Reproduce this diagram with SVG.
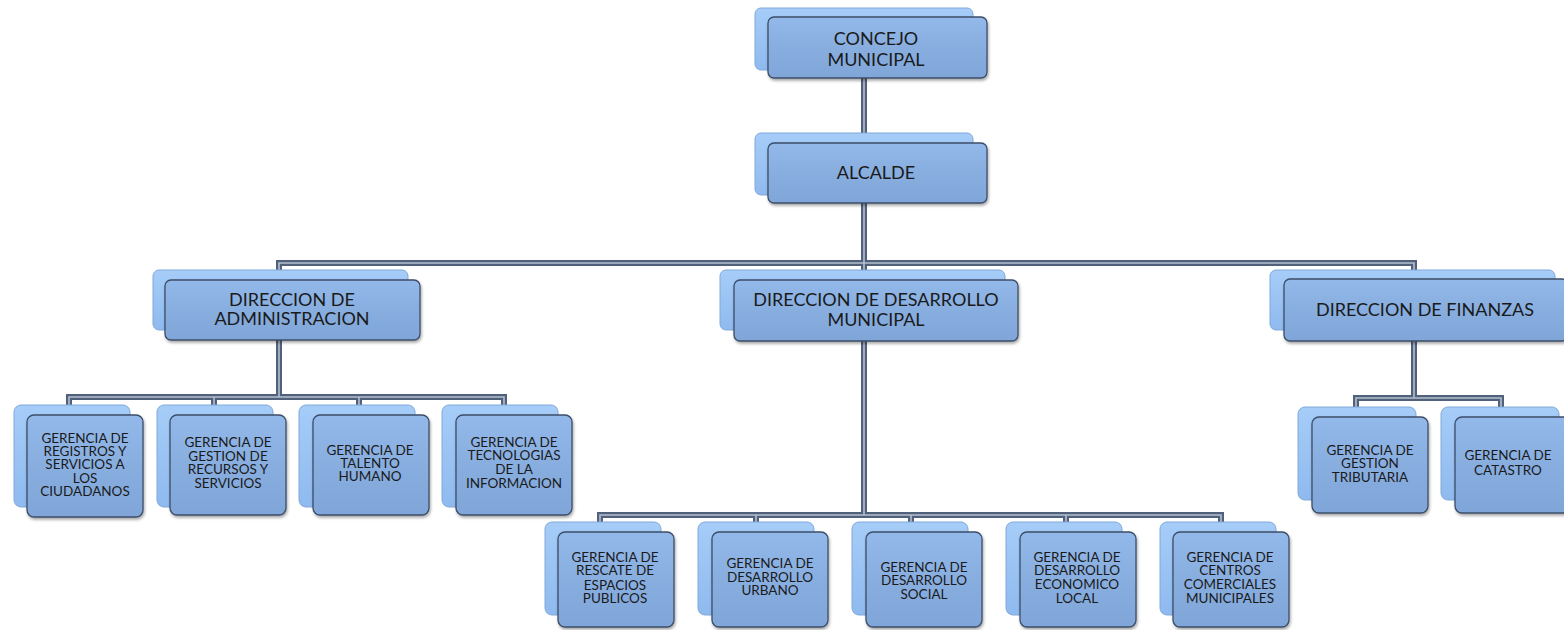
<svg xmlns="http://www.w3.org/2000/svg" width="1564" height="630" viewBox="0 0 1564 630">
<defs>
<linearGradient id="gf" x1="0" y1="0" x2="0" y2="1">
<stop offset="0" stop-color="#93b9ea"/>
<stop offset="0.5" stop-color="#88aee0"/>
<stop offset="1" stop-color="#80a6d9"/>
</linearGradient>
<linearGradient id="gb" x1="0" y1="0" x2="0" y2="1">
<stop offset="0" stop-color="#a6cdf8"/>
<stop offset="1" stop-color="#8fbaef"/>
</linearGradient>
<filter id="sh" x="-10%" y="-10%" width="130%" height="130%">
<feGaussianBlur in="SourceAlpha" stdDeviation="1.5"/>
<feOffset dx="1" dy="2"/>
<feComponentTransfer><feFuncA type="linear" slope="0.35"/></feComponentTransfer>
<feMerge><feMergeNode/><feMergeNode in="SourceGraphic"/></feMerge>
</filter>
</defs>
<style>
.b{fill:url(#gb);stroke:#80a8d8;stroke-width:1}
.f{fill:url(#gf);stroke:#3c4d68;stroke-width:1.3;filter:url(#sh)}
.o{fill:none;stroke:#52617b;stroke-width:6;stroke-linejoin:miter}
.i{fill:none;stroke:#b4c0d0;stroke-width:1.6;stroke-linejoin:miter}
.t{font-family:Lato,"Liberation Sans",sans-serif;fill:#1a1a1a;text-anchor:middle}
.L{font-size:18px}
.S{font-size:13.5px}
</style>
<rect width="1564" height="630" fill="#ffffff"/>
<g id="connectors">
<path class="o" d="M864 78V515M279 280V263H1414V280M279 340V397M69 410V397H504V410M214 397V415M359 397V415M600 530V515H1221V530M756 515V531M911 515V531M1066 515V531M1414 341V398M1356 412V398H1501V412"/>
<path class="i" d="M864 78V515M279 280V263H1414V280M279 340V397M69 410V397H504V410M214 397V415M359 397V415M600 530V515H1221V530M756 515V531M911 515V531M1066 515V531M1414 341V398M1356 412V398H1501V412"/>
</g>
<g id="n-concejo">
<rect class="b" x="755" y="8" width="218" height="62" rx="6"/>
<rect class="f" x="768" y="17" width="219" height="61" rx="6"/>
<text class="t L" x="876" y="45">CONCEJO</text>
<text class="t L" x="876" y="66">MUNICIPAL</text>
</g>
<g id="n-alcalde">
<rect class="b" x="755" y="133" width="218" height="62" rx="6"/>
<rect class="f" x="768" y="143" width="219" height="60" rx="6"/>
<text class="t L" x="876" y="179">ALCALDE</text>
</g>
<g id="n-dir-admin">
<rect class="b" x="153" y="270" width="255" height="60" rx="6"/>
<rect class="f" x="165" y="280" width="255" height="60" rx="6"/>
<text class="t L" x="292" y="306">DIRECCION DE</text>
<text class="t L" x="292" y="325">ADMINISTRACION</text>
</g>
<g id="n-dir-desarrollo">
<rect class="b" x="720" y="270" width="285" height="60" rx="6"/>
<rect class="f" x="734" y="280" width="284" height="61" rx="6"/>
<text class="t L" x="876" y="306">DIRECCION DE DESARROLLO</text>
<text class="t L" x="876" y="326">MUNICIPAL</text>
</g>
<g id="n-dir-finanzas">
<rect class="b" x="1270" y="270" width="285" height="60" rx="6"/>
<rect class="f" x="1284" y="279" width="284" height="62" rx="6"/>
<text class="t L" x="1425" y="316">DIRECCION DE FINANZAS</text>
</g>
<g id="n-g-registros">
<rect class="b" x="14" y="405" width="116" height="102" rx="7"/>
<rect class="f" x="27" y="415" width="116" height="102" rx="7"/>
<text class="t S" x="85" y="443">GERENCIA DE</text>
<text class="t S" x="85" y="456">REGISTROS Y</text>
<text class="t S" x="85" y="469">SERVICIOS A</text>
<text class="t S" x="85" y="483">LOS</text>
<text class="t S" x="85" y="496">CIUDADANOS</text>
</g>
<g id="n-g-gestion-recursos">
<rect class="b" x="157" y="405" width="116" height="102" rx="7"/>
<rect class="f" x="170" y="415" width="116" height="100" rx="7"/>
<text class="t S" x="228" y="447">GERENCIA DE</text>
<text class="t S" x="228" y="461">GESTION DE</text>
<text class="t S" x="228" y="474">RECURSOS Y</text>
<text class="t S" x="228" y="488">SERVICIOS</text>
</g>
<g id="n-g-talento">
<rect class="b" x="299" y="405" width="116" height="102" rx="7"/>
<rect class="f" x="313" y="415" width="116" height="100" rx="7"/>
<text class="t S" x="370" y="455">GERENCIA DE</text>
<text class="t S" x="370" y="468">TALENTO</text>
<text class="t S" x="370" y="481">HUMANO</text>
</g>
<g id="n-g-tecnologias">
<rect class="b" x="442" y="405" width="116" height="102" rx="7"/>
<rect class="f" x="456" y="415" width="116" height="100" rx="7"/>
<text class="t S" x="514" y="447">GERENCIA DE</text>
<text class="t S" x="514" y="460">TECNOLOGIAS</text>
<text class="t S" x="514" y="474">DE LA</text>
<text class="t S" x="514" y="488">INFORMACION</text>
</g>
<g id="n-g-rescate">
<rect class="b" x="545" y="522" width="116" height="93" rx="7"/>
<rect class="f" x="558" y="532" width="116" height="95" rx="7"/>
<text class="t S" x="615" y="562">GERENCIA DE</text>
<text class="t S" x="615" y="575">RESCATE DE</text>
<text class="t S" x="615" y="590">ESPACIOS</text>
<text class="t S" x="615" y="603">PUBLICOS</text>
</g>
<g id="n-g-urbano">
<rect class="b" x="698" y="522" width="116" height="93" rx="7"/>
<rect class="f" x="712" y="532" width="116" height="95" rx="7"/>
<text class="t S" x="770" y="568">GERENCIA DE</text>
<text class="t S" x="770" y="582">DESARROLLO</text>
<text class="t S" x="770" y="595">URBANO</text>
</g>
<g id="n-g-social">
<rect class="b" x="852" y="522" width="116" height="93" rx="7"/>
<rect class="f" x="866" y="532" width="116" height="95" rx="7"/>
<text class="t S" x="924" y="572">GERENCIA DE</text>
<text class="t S" x="924" y="585">DESARROLLO</text>
<text class="t S" x="924" y="599">SOCIAL</text>
</g>
<g id="n-g-economico">
<rect class="b" x="1006" y="522" width="116" height="93" rx="7"/>
<rect class="f" x="1020" y="532" width="116" height="95" rx="7"/>
<text class="t S" x="1077" y="562">GERENCIA DE</text>
<text class="t S" x="1077" y="575">DESARROLLO</text>
<text class="t S" x="1077" y="589">ECONOMICO</text>
<text class="t S" x="1077" y="603">LOCAL</text>
</g>
<g id="n-g-centros">
<rect class="b" x="1160" y="522" width="116" height="93" rx="7"/>
<rect class="f" x="1173" y="532" width="116" height="95" rx="7"/>
<text class="t S" x="1230" y="562">GERENCIA DE</text>
<text class="t S" x="1230" y="575">CENTROS</text>
<text class="t S" x="1230" y="589">COMERCIALES</text>
<text class="t S" x="1230" y="603">MUNICIPALES</text>
</g>
<g id="n-g-tributaria">
<rect class="b" x="1298" y="407" width="118" height="93" rx="7"/>
<rect class="f" x="1312" y="417" width="116" height="96" rx="7"/>
<text class="t S" x="1370" y="455">GERENCIA DE</text>
<text class="t S" x="1370" y="468">GESTION</text>
<text class="t S" x="1370" y="482">TRIBUTARIA</text>
</g>
<g id="n-g-catastro">
<rect class="b" x="1441" y="407" width="118" height="93" rx="7"/>
<rect class="f" x="1455" y="417" width="116" height="96" rx="7"/>
<text class="t S" x="1508" y="460">GERENCIA DE</text>
<text class="t S" x="1508" y="475">CATASTRO</text>
</g>
</svg>
